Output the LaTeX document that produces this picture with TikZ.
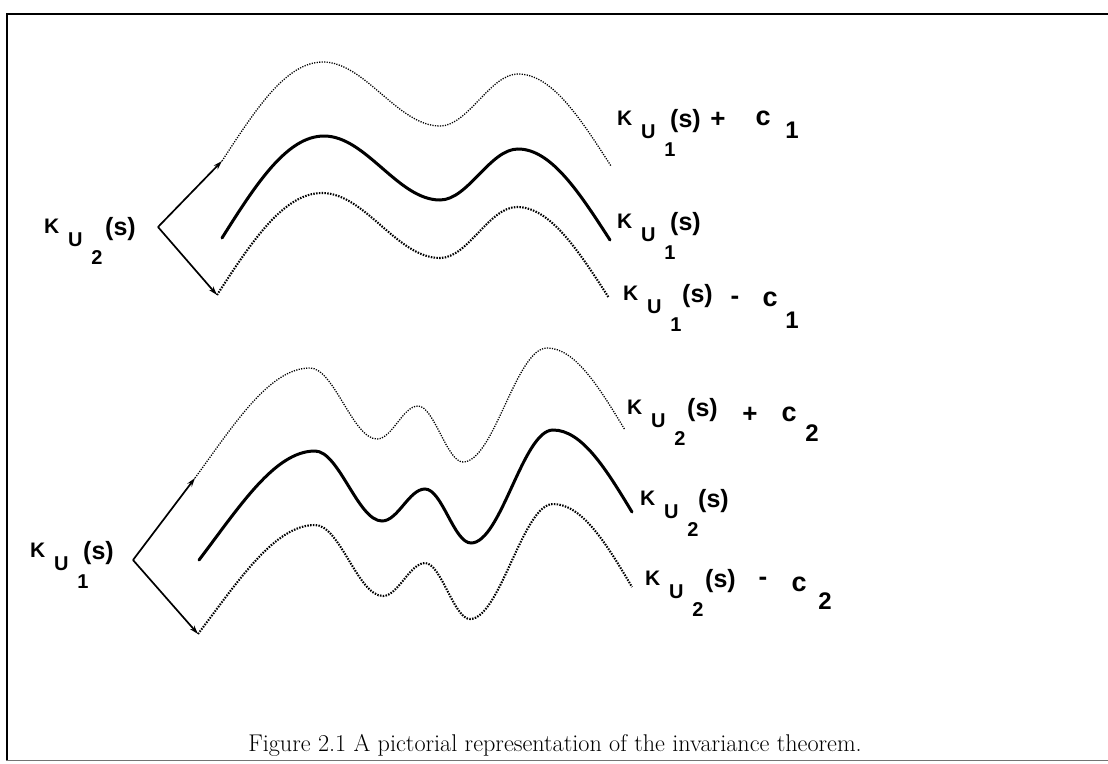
\documentclass[tikz,border=0pt]{standalone}
\usepackage{fontspec}
\newfontfamily\labfont{Liberation Sans}
\usetikzlibrary{arrows.meta}
\tikzset{
  klab/.style={inner sep=0pt, font=\labfont\bfseries\fontsize{21}{21}\selectfont},
  ulab/.style={inner sep=0pt, font=\labfont\bfseries\fontsize{20}{20}\selectfont},
  dlab/.style={inner sep=0pt, font=\labfont\bfseries\fontsize{20}{20}\selectfont},
  slab/.style={inner sep=0pt, font=\labfont\bfseries\fontsize{25}{25}\selectfont},
  oplab/.style={inner sep=0pt, font=\labfont\bfseries\fontsize{26}{26}\selectfont},
  clab/.style={inner sep=0pt, font=\labfont\bfseries\fontsize{27}{27}\selectfont},
  biglab/.style={inner sep=0pt, font=\labfont\bfseries\fontsize{24}{24}\selectfont},
  dotthin/.style={line width=1.3pt, dash pattern=on 1.2pt off 1.3pt},
  dotthick/.style={line width=2.1pt, dash pattern=on 1.5pt off 1.3pt},
  solidcurve/.style={line width=3pt, line cap=round},
  arr/.style={line width=1.7pt, -{Stealth[length=9pt,width=5.5pt]}},
  frameline/.style={line width=2pt},
}
\newcommand\KUlabel[5]{%
  \node[klab, anchor=base west] (#1K) at (#2,-#3) {K};
  \node[ulab, anchor=base west] (#1U) at ({#2+24},{-#3-13}) {U};
  \node[dlab, anchor=base] (#1d) at ({#2+53},{-#3-31}) {#4};
  \node[slab, anchor=base west] (#1s) at ({#2+#5},{-#3-2}) {(s)};
}
\begin{document}
\begin{tikzpicture}[x=1pt,y=1pt]
\useasboundingbox (0,0) rectangle (1108,-763);
% frame
\draw[frameline] (6,-14) -- (1108,-14);
\draw[line width=1.6pt] (7,-14) -- (7,-760);
\draw[line width=1pt, black!55] (6,-760) -- (1108,-760);

% ---------- top group ----------
\coordinate (v1) at (158,-227);
\coordinate (T1s) at (222,-161);
\coordinate (T3s) at (217,-295);
\draw[arr] (v1) -- (T1s);
\draw[arr] (v1) -- (T3s);
\draw[dotthin] (T1s) .. controls +(34,52) and +(-37,0) .. (323,-62)
  .. controls +(42,0) and +(-42,0) .. (440,-126)
  .. controls +(28,0) and +(-28,0) .. (518,-74)
  .. controls +(34,0) and +(-31,48) .. (611,-166);
\draw[solidcurve] (222,-238) .. controls +(34,54) and +(-37,0) .. (324,-136)
  .. controls +(42,0) and +(-42,0) .. (440,-200)
  .. controls +(28,0) and +(-28,0) .. (518,-149)
  .. controls +(33,0) and +(-31,48) .. (610,-240);
\draw[dotthick] (T3s) .. controls +(35,54) and +(-38,0) .. (322,-193)
  .. controls +(43,0) and +(-43,0) .. (440,-258)
  .. controls +(28,0) and +(-28,0) .. (517,-207)
  .. controls +(33,0) and +(-31,48) .. (609,-298);

% ---------- bottom group ----------
\coordinate (v2) at (133,-560);
\coordinate (B1s) at (195,-478);
\coordinate (B3s) at (198,-634);
\draw[arr] (v2) -- (B1s);
\draw[arr] (v2) -- (B3s);
\draw[dotthin] (B1s) .. controls +(40,55) and +(-40,0) .. (310,-368)
  .. controls +(24,0) and +(-24,0) .. (377,-439)
  .. controls +(15,0) and +(-15,0) .. (418,-406)
  .. controls +(16,0) and +(-16,0) .. (463,-462)
  .. controls +(31,0) and +(-31,0) .. (547,-348)
  .. controls +(28,0) and +(-26,43) .. (625,-430);
\draw[solidcurve] (199,-560) .. controls +(41,54) and +(-40,0) .. (315,-451)
  .. controls +(24,0) and +(-24,0) .. (382,-521)
  .. controls +(16,0) and +(-16,0) .. (425,-489)
  .. controls +(17,0) and +(-17,0) .. (471,-543)
  .. controls +(30,0) and +(-30,0) .. (553,-430)
  .. controls +(29,0) and +(-26,43) .. (632,-512);
\draw[dotthick] (B3s) .. controls +(41,54) and +(-40,0) .. (315,-525)
  .. controls +(25,0) and +(-25,0) .. (383,-596)
  .. controls +(15,0) and +(-15,0) .. (425,-563)
  .. controls +(16,0) and +(-16,0) .. (470,-619)
  .. controls +(30,0) and +(-30,0) .. (553,-504)
  .. controls +(29,0) and +(-26,44) .. (632,-587);

% ---------- labels ----------
\KUlabel{la}{44}{233}{2}{61}
\KUlabel{ra}{617}{125}{1}{53}
\node[oplab] (raop) at (718,-120) {+};
\node[clab] (rac) at (763,-118) {c};
\node[biglab] (ran) at (792,-130) {1};
\KUlabel{rb}{617}{228}{1}{53}
\KUlabel{rc}{623}{300}{1}{59}
\node[oplab] (rcop) at (735,-300) {-};
\node[clab] (rcc) at (770,-299) {c};
\node[biglab] (rcn) at (792,-320) {1};
\KUlabel{rd}{627}{414}{2}{60}
\node[oplab] (rdop) at (750,-415) {+};
\node[clab] (rdc) at (789,-414) {c};
\node[biglab] (rdn) at (812,-433) {2};
\KUlabel{re}{640}{505}{2}{58}
\KUlabel{rf}{645}{585}{2}{60}
\node[oplab] (rfop) at (763,-581) {-};
\node[clab] (rfc) at (799,-584) {c};
\node[biglab] (rfn) at (825,-601) {2};
\KUlabel{lb}{30}{557}{1}{53}

% caption
\node[anchor=base, inner sep=0pt, font=\fontsize{24.2}{28}\selectfont] (cap) at (555,-751)
  {Figure 2.1 A pictorial representation of the invariance theorem.};
\end{tikzpicture}
\end{document}
